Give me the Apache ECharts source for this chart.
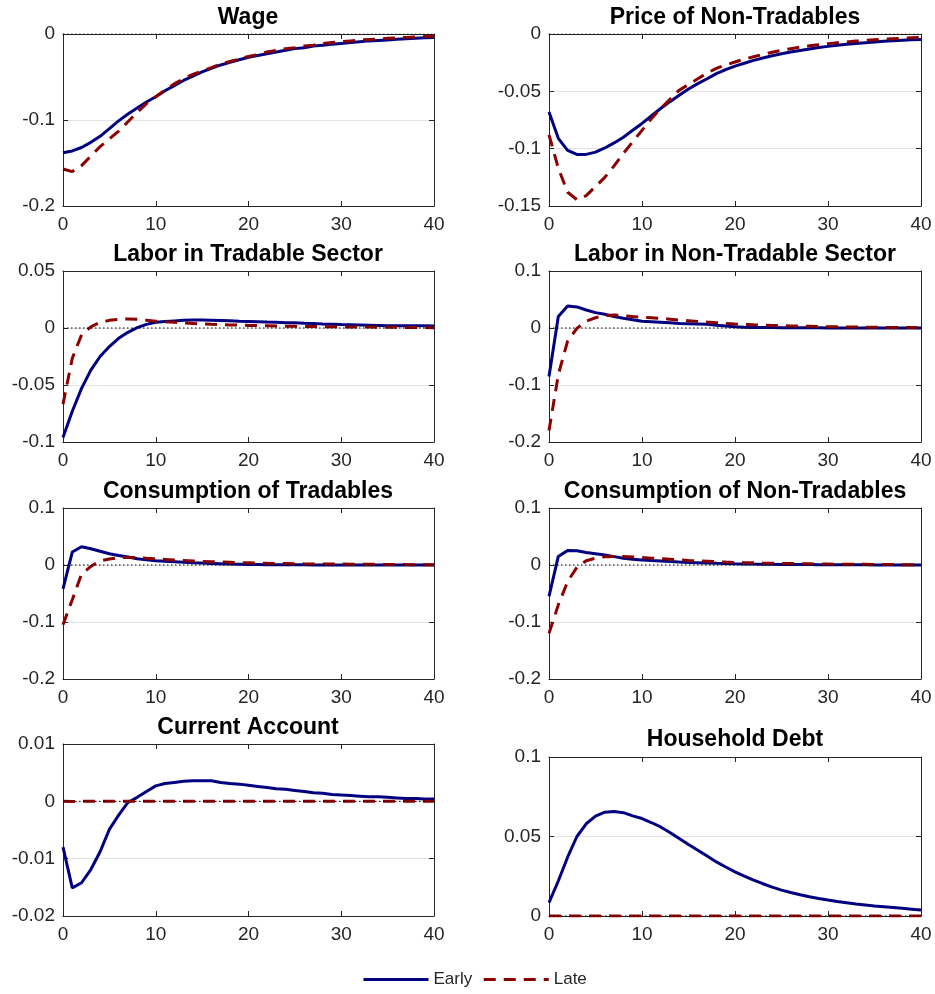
<!DOCTYPE html>
<html><head><meta charset="utf-8">
<script src="https://cdn.jsdelivr.net/npm/echarts@6/dist/echarts.min.js"></script>
<style>html,body{margin:0;padding:0;background:#fff}#c{width:935px;height:994px}</style>
</head><body><div id="c"></div>
<script>
const periods = [...Array(41).keys()];

const wageEarly = [-0.138,-0.136,-0.132,-0.126,-0.119,-0.110,-0.101,-0.093,-0.086,-0.079,-0.073,-0.066,-0.060,-0.054,-0.049,-0.044,-0.040,-0.036,-0.033,-0.030,-0.027,-0.025,-0.023,-0.021,-0.019,-0.017,-0.016,-0.014,-0.013,-0.012,-0.011,-0.010,-0.009,-0.008,-0.0075,-0.007,-0.006,-0.0055,-0.005,-0.0045,-0.004];
const wageLate = [-0.157,-0.160,-0.153,-0.142,-0.131,-0.122,-0.113,-0.102,-0.091,-0.081,-0.073,-0.065,-0.058,-0.052,-0.047,-0.043,-0.039,-0.035,-0.032,-0.029,-0.026,-0.024,-0.021,-0.019,-0.017,-0.016,-0.014,-0.013,-0.011,-0.010,-0.009,-0.008,-0.007,-0.0065,-0.006,-0.005,-0.0045,-0.004,-0.0035,-0.003,-0.0025];

const priceEarly = [-0.068,-0.091,-0.1015,-0.105,-0.105,-0.103,-0.0994,-0.095,-0.090,-0.084,-0.078,-0.0715,-0.065,-0.059,-0.0535,-0.048,-0.0433,-0.039,-0.0346,-0.031,-0.028,-0.0255,-0.023,-0.021,-0.019,-0.0172,-0.0157,-0.0143,-0.013,-0.0118,-0.0108,-0.0099,-0.009,-0.0083,-0.0076,-0.007,-0.0064,-0.0059,-0.0055,-0.0051,-0.0047];
const priceLate = [-0.088,-0.117,-0.138,-0.1445,-0.141,-0.133,-0.125,-0.115,-0.104,-0.094,-0.084,-0.074,-0.065,-0.057,-0.049,-0.044,-0.039,-0.034,-0.030,-0.027,-0.0244,-0.022,-0.0198,-0.0178,-0.0159,-0.0142,-0.0128,-0.0115,-0.0103,-0.0093,-0.0084,-0.0076,-0.0069,-0.0062,-0.0056,-0.005,-0.0045,-0.0041,-0.0037,-0.0033,-0.003];

const laborTEarly = [-0.096,-0.073,-0.053,-0.037,-0.025,-0.0163,-0.009,-0.0038,0.0003,0.0032,0.005,0.0057,0.0062,0.0067,0.007,0.007,0.0068,0.0066,0.0063,0.006,0.0058,0.0055,0.0052,0.005,0.0047,0.0045,0.0042,0.004,0.0036,0.0033,0.003,0.0028,0.0026,0.0024,0.0022,0.002,0.002,0.002,0.0019,0.0019,0.0018];
const laborTLate = [-0.0668,-0.0265,-0.006,0.001,0.005,0.0067,0.0076,0.0079,0.0076,0.0068,0.006,0.0055,0.005,0.0045,0.004,0.0035,0.0032,0.003,0.0027,0.0025,0.0023,0.0021,0.002,0.0018,0.0016,0.0015,0.0014,0.0013,0.0012,0.0011,0.001,0.0009,0.0008,0.0008,0.0007,0.0006,0.0006,0.0005,0.0004,0.0004,0.0003];

const laborNEarly = [-0.085,0.020,0.0385,0.037,0.0315,0.027,0.024,0.020,0.017,0.0145,0.012,0.011,0.010,0.009,0.008,0.0075,0.007,0.0064,0.005,0.0035,0.0023,0.0015,0.001,0.0008,0.0007,0.0006,0.0005,0.0004,0.0003,0.0003,0.0002,0.0002,0.0001,0.0001,0.0001,0.0001,0,0,0,0,0];
const laborNLate = [-0.18,-0.082,-0.023,-0.0006,0.012,0.018,0.0216,0.0228,0.0216,0.020,0.019,0.018,0.017,0.0155,0.014,0.0128,0.0116,0.0104,0.0093,0.008,0.007,0.0063,0.0056,0.005,0.0045,0.004,0.0036,0.0032,0.0029,0.0026,0.0023,0.0021,0.0019,0.0016,0.0014,0.0012,0.0011,0.0009,0.0008,0.0007,0.0006];

const consTEarly = [-0.042,0.0227,0.032,0.0285,0.024,0.0197,0.0168,0.014,0.011,0.009,0.0074,0.0065,0.0057,0.0048,0.004,0.0033,0.0028,0.0023,0.0018,0.0014,0.001,0.0008,0.0006,0.0005,0.0004,0.0003,0.0003,0.0002,0.0002,0.0002,0.0001,0.0001,0.0001,0.0001,0,0,0,0,0,0,0];
const consTLate = [-0.105,-0.061,-0.016,-0.0025,0.0074,0.0104,0.0127,0.0133,0.0133,0.012,0.011,0.0098,0.0086,0.0078,0.007,0.0063,0.0058,0.0053,0.0048,0.0043,0.0039,0.0035,0.0031,0.0028,0.0025,0.0022,0.002,0.0019,0.0018,0.0017,0.0016,0.0014,0.0013,0.0012,0.0011,0.001,0.0009,0.0007,0.0006,0.0005,0.0004];

const consNEarly = [-0.055,0.015,0.0256,0.025,0.022,0.0197,0.0174,0.0147,0.012,0.010,0.0086,0.0077,0.0069,0.006,0.0052,0.0045,0.004,0.0035,0.003,0.0026,0.0022,0.0019,0.0016,0.0014,0.0012,0.001,0.0009,0.0008,0.0007,0.0006,0.0005,0.0004,0.0004,0.0003,0.0003,0.0002,0.0002,0.0001,0.0001,0.0001,0];
const consNLate = [-0.12,-0.07,-0.029,-0.004,0.0075,0.012,0.0145,0.015,0.015,0.014,0.013,0.012,0.011,0.010,0.009,0.008,0.0073,0.0066,0.0058,0.0051,0.0045,0.0041,0.0038,0.0034,0.0031,0.0028,0.0026,0.0023,0.0021,0.0018,0.0016,0.0014,0.0013,0.0012,0.0011,0.001,0.0009,0.0007,0.0006,0.0005,0.0004];

const caEarly = [-0.008,-0.0151,-0.0142,-0.0119,-0.0088,-0.0049,-0.0024,-0.0002,0.0007,0.0017,0.0027,0.0031,0.0033,0.0035,0.0036,0.0036,0.0036,0.0033,0.0031,0.003,0.0028,0.0026,0.0024,0.0022,0.0021,0.0019,0.0017,0.0015,0.0014,0.0012,0.0011,0.001,0.0009,0.0008,0.0008,0.0007,0.0006,0.0005,0.0005,0.0004,0.0004];
const caLate = [0,-0.00005,0,0,0,0,0,0,0,0,0,0,0,0,0,0,0,0,0,0,0,0,0,0,0,0,0,0,0,0,0,0,0,0,0,0,0,0,0,0,0];

const debtEarly = [0.0084,0.022,0.037,0.050,0.058,0.0628,0.0653,0.0657,0.065,0.063,0.0613,0.0588,0.056,0.0525,0.0487,0.045,0.0414,0.0377,0.034,0.0308,0.0278,0.0251,0.0226,0.0203,0.0182,0.0163,0.0148,0.0134,0.0121,0.011,0.010,0.0091,0.0083,0.0075,0.0069,0.0063,0.0058,0.0053,0.0048,0.0043,0.0038];
const debtLate = [0,0,0,0,0,0,0,0,0,0,0,0,0,0,0,0,0,0,0,0,0,0,0,0,0,0,0,0,0,0,0,0,0,0,0,0,0,0,0,0,0];

const titles = ['Wage','Price of Non-Tradables','Labor in Tradable Sector','Labor in Non-Tradable Sector','Consumption of Tradables','Consumption of Non-Tradables','Current Account','Household Debt'];
const earlySeries = [wageEarly,priceEarly,laborTEarly,laborNEarly,consTEarly,consNEarly,caEarly,debtEarly];
const lateSeries = [wageLate,priceLate,laborTLate,laborNLate,consTLate,consNLate,caLate,debtLate];
const yMins = [-0.2,-0.15,-0.1,-0.2,-0.2,-0.2,-0.02,0];
const yMaxs = [0,0,0.05,0.1,0.1,0.1,0.01,0.1];
const ySteps = [0.1,0.05,0.05,0.1,0.1,0.1,0.01,0.05];
const xTicks = {min:0, max:40, step:10};
const legendNames = ['Early','Late'];

// layout: [left, top, width, height, titleCenterX, titleTop]
const layout = [
  [63,34,371,172,248,6],
  [549,34,372,172,735,6],
  [63,271,371,171,248,243],
  [549,271,372,171,735,243],
  [63,508,371,171,248,480],
  [549,508,372,171,735,480],
  [63,744,371,172,248,716],
  [549,757,372,159,735,728]
];

const FONT = '"Liberation Sans", Arial, Helvetica, sans-serif';
const AX = '#262626';
const BLUE = '#000080';
const RED = '#8b0000';

const grid=[], xAxis=[], yAxis=[], series=[], title=[];
const fmt = v => String(+v.toFixed(4));

titles.forEach((name,i)=>{
  const L = layout[i];
  grid.push({left:L[0], top:L[1], width:L[2], height:L[3]});
  title.push({text:name, left:L[4], top:L[5], textAlign:'center', padding:0,
    textStyle:{fontSize:23, fontWeight:'bold', color:'#000', fontFamily:FONT}});
  const tick = {show:true, inside:true, length:5, lineStyle:{color:AX, width:1}};
  const line = {show:true, onZero:false, lineStyle:{color:AX, width:1}};
  xAxis.push({type:'value', gridIndex:i, min:xTicks.min, max:xTicks.max, interval:xTicks.step,
    axisLine:line, axisTick:tick,
    axisLabel:{margin:9, fontSize:19, color:AX, fontFamily:FONT, formatter:fmt},
    splitLine:{show:false}});
  xAxis.push({type:'value', gridIndex:i, position:'top', min:xTicks.min, max:xTicks.max, interval:xTicks.step,
    axisLine:line, axisTick:tick, axisLabel:{show:false}, splitLine:{show:false}});
  yAxis.push({type:'value', gridIndex:i, min:yMins[i], max:yMaxs[i], interval:ySteps[i],
    axisLine:line, axisTick:tick,
    axisLabel:{margin:8, fontSize:19, color:AX, fontFamily:FONT, formatter:fmt},
    splitLine:{show:true, lineStyle:{color:'#e2e2e2', width:1}}});
  yAxis.push({type:'value', gridIndex:i, position:'right', min:yMins[i], max:yMaxs[i], interval:ySteps[i],
    axisLine:line, axisTick:tick, axisLabel:{show:false}, splitLine:{show:false}});
  const xi = 2*i, yi = 2*i;
  series.push({name:legendNames[0], type:'line', xAxisIndex:xi, yAxisIndex:yi, symbol:'none', z:2,
    data: periods.map((t,k)=>[t, earlySeries[i][k]]),
    lineStyle:{color:BLUE, width:3}, itemStyle:{color:BLUE}, silent:true});
  series.push({name:legendNames[1], type:'line', xAxisIndex:xi, yAxisIndex:yi, symbol:'none', z:3,
    data: periods.map((t,k)=>[t, lateSeries[i][k]]),
    lineStyle:{color:RED, width:3, type:[12,8]}, itemStyle:{color:RED}, silent:true});
  series.push({name:'zero', type:'line', xAxisIndex:xi, yAxisIndex:yi, symbol:'none', z:4,
    data:[[xTicks.min,0],[xTicks.max,0]],
    lineStyle:{color:'#000', width:1, type:[1.5,2.5]}, silent:true});
});

const chart = echarts.init(document.getElementById('c'), null, {renderer:'canvas'});
chart.setOption({
  animation:false,
  backgroundColor:'#fff',
  title, grid, xAxis, yAxis, series,
  legend:{data:legendNames, left:362, top:971, padding:0, itemWidth:65, itemHeight:14, itemGap:10,
    itemStyle:{opacity:0}, lineStyle:{width:3},
    textStyle:{fontSize:17, color:AX, fontFamily:FONT}, selectedMode:false}
});
</script></body></html>
